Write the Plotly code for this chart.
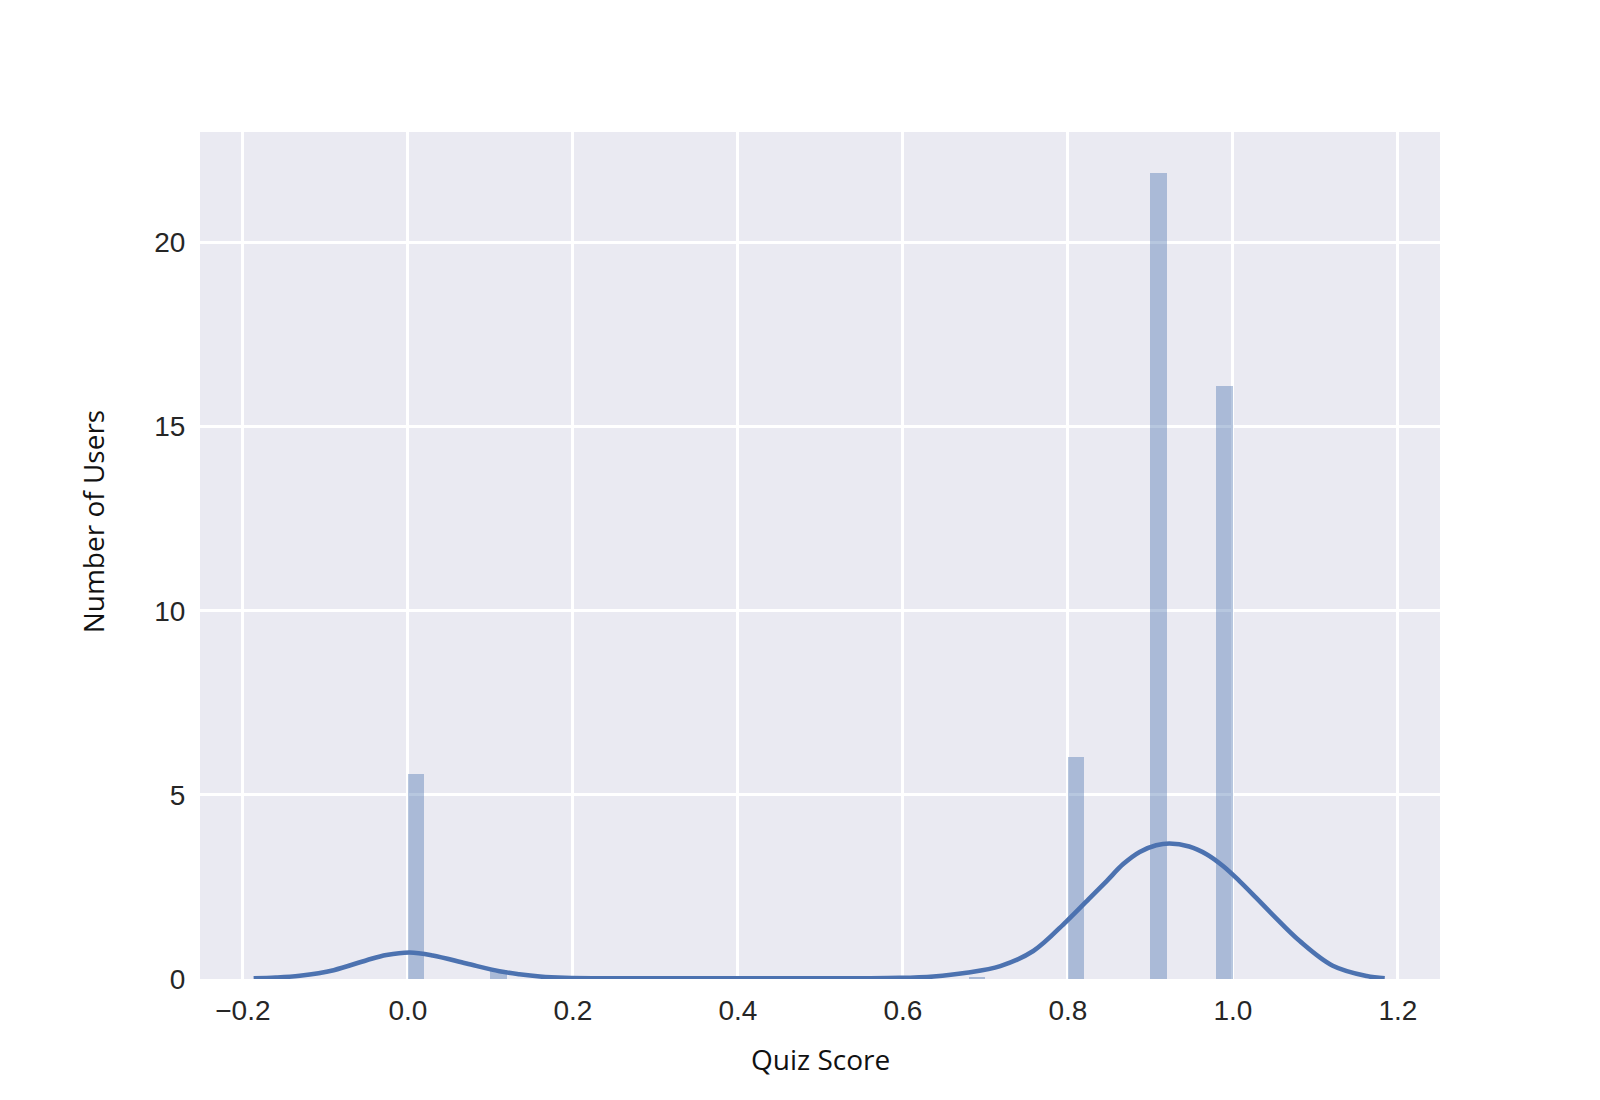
import plotly.graph_objects as go

# Histogram (density) bins: left edges and heights
bin_left = [0.00, 0.10, 0.68, 0.80, 0.90, 0.98]
bin_density = [5.58, 0.245, 0.05, 6.03, 21.9, 16.1]
bin_width = 0.02

# KDE curve points
kde_x = [-0.187, -0.160, -0.131, -0.090, -0.050, -0.026, 0.002, 0.030, 0.071, 0.111,
         0.135, 0.160, 0.190, 0.25, 0.35, 0.45, 0.55, 0.596, 0.637, 0.677,
         0.718, 0.758, 0.798, 0.827, 0.847, 0.867, 0.887, 0.907, 0.923, 0.947,
         0.968, 0.988, 1.008, 1.028, 1.048, 1.081, 1.121, 1.162, 1.184]
kde_y = [0.02, 0.04, 0.09, 0.24, 0.51, 0.65, 0.72, 0.64, 0.42, 0.21,
         0.13, 0.07, 0.035, 0.02, 0.02, 0.02, 0.02, 0.03, 0.07, 0.17,
         0.35, 0.76, 1.56, 2.21, 2.66, 3.12, 3.45, 3.63, 3.68, 3.60,
         3.39, 3.07, 2.66, 2.21, 1.75, 1.03, 0.36, 0.08, 0.02]

x_ticks = [-0.2, 0.0, 0.2, 0.4, 0.6, 0.8, 1.0, 1.2]
y_ticks = [0, 5, 10, 15, 20]

fig = go.Figure()
fig.add_trace(go.Bar(
    x=bin_left, y=bin_density, width=[bin_width] * len(bin_left), offset=0,
    marker=dict(color="rgba(76,114,176,0.4)", line=dict(width=0)),
    hoverinfo="skip", showlegend=False,
))
fig.add_trace(go.Scatter(
    x=kde_x, y=kde_y, mode="lines",
    line=dict(color="#4C72B0", width=4.6, shape="spline", smoothing=1.0),
    showlegend=False,
))

tick_font = dict(family="Liberation Sans, Arial, sans-serif", size=28, color="#262626")
fig.update_layout(
    width=1600, height=1100,
    margin=dict(l=192, r=168, t=124, b=129),
    paper_bgcolor="white", plot_bgcolor="#EAEAF2",
    bargap=0,
    xaxis=dict(range=[-0.252, 1.251], tickvals=x_ticks, tickformat=".1f",
               showgrid=True, gridcolor="white", gridwidth=2.6, zeroline=False,
               showline=False, ticks="outside", ticklen=6, tickcolor="rgba(0,0,0,0)",
               tickfont=tick_font),
    yaxis=dict(range=[0, 23], tickvals=y_ticks,
               showgrid=True, gridcolor="white", gridwidth=2.6, zeroline=False,
               showline=False, ticks="outside", ticklen=8, tickcolor="rgba(0,0,0,0)",
               tickfont=tick_font),
    annotations=[
        dict(text="Quiz Score", xref="paper", yref="paper", x=0.5, y=-0.095,
             xanchor="center", yanchor="middle", showarrow=False,
             font=dict(family="Open Sans, Noto Sans, sans-serif", size=28, color="#111111")),
        dict(text="Number of Users", xref="paper", yref="paper", x=-0.0865, y=0.54,
             xanchor="center", yanchor="middle", showarrow=False, textangle=-90,
             font=dict(family="Open Sans, Noto Sans, sans-serif", size=28, color="#111111")),
    ],
)

fig.write_html("out.html")
